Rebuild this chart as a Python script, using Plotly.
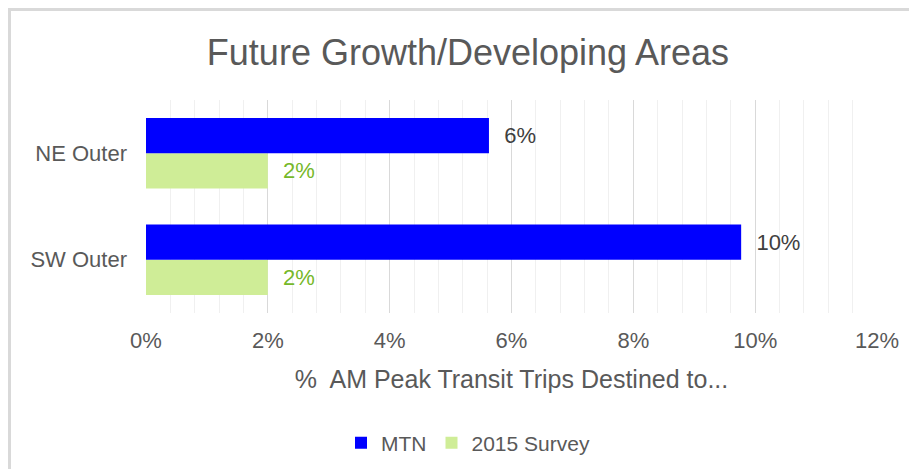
import plotly.graph_objects as go

categories = ["NE Outer", "SW Outer"]
mtn = [0.0563, 0.0977]
survey = [0.02, 0.02]
x_ticks = [0, 0.02, 0.04, 0.06, 0.08, 0.10, 0.12]
x_tick_labels = ["0%", "2%", "4%", "6%", "8%", "10%", "12%"]

FONT = "Liberation Sans, Arial, sans-serif"
GREY = "#595959"

fig = go.Figure()
fig.add_trace(go.Bar(
    name="2015 Survey", y=categories, x=survey, orientation="h",
    marker=dict(color="#cfed97", line=dict(width=0)),
    texttemplate="\u00a0\u00a0%{x:.0%}", textposition="outside",
    textfont=dict(size=22, color="#76b82a", family=FONT), cliponaxis=False,
))
fig.add_trace(go.Bar(
    name="MTN", y=categories, x=mtn, orientation="h",
    marker=dict(color="#0000ff", line=dict(width=0)),
    texttemplate="\u00a0\u00a0%{x:.0%}", textposition="outside",
    textfont=dict(size=22, color="#404040", family=FONT), cliponaxis=False,
))

# page body has an 8px margin; the figure is sized/placed to compensate
W, H = 909, 461
L, R, T, B = 138, 40, 92, 156
pw, ph = W - L - R, H - T - B

def px_x(p):
    return (p - L) / pw

def px_y(p):
    return (H - B - p) / ph

shapes = [
    dict(type="rect", xref="paper", yref="paper",
         x0=px_x(1.5), x1=px_x(W + 20), y0=px_y(H + 20), y1=px_y(1.5),
         line=dict(color="#d9d9d9", width=3), fillcolor="rgba(0,0,0,0)", layer="below"),
]

fig.update_layout(
    width=W, height=H,
    margin=dict(l=L, r=R, t=T, b=B, autoexpand=False),
    paper_bgcolor="white", plot_bgcolor="white",
    barmode="group", bargap=0.34, bargroupgap=0,
    font=dict(family=FONT, color=GREY, size=22),
    title=dict(text="Future Growth/Developing Areas", x=(468 - 8) / W, xanchor="center",
               y=1 - 44 / H, yanchor="middle", font=dict(size=36, color=GREY, family=FONT)),
    xaxis=dict(range=[0, 0.12], tickvals=x_ticks, ticktext=x_tick_labels,
               showgrid=True, gridcolor="#d9d9d9", gridwidth=1,
               minor=dict(dtick=0.004, showgrid=True, gridcolor="#f0f0f0", gridwidth=1, ticks=""),
               zeroline=False, showline=False, ticks="",
               tickfont=dict(size=22, color=GREY), ticklabelstandoff=12,
               title=dict(text="%\u00a0 AM Peak Transit Trips Destined to...",
                          font=dict(size=25, color=GREY), standoff=18)),
    yaxis=dict(categoryorder="array", categoryarray=categories[::-1],
               showgrid=False, zeroline=False, showline=False, ticks="",
               tickfont=dict(size=22, color=GREY), ticklabelstandoff=18),
    legend=dict(orientation="h", x=px_x(468 - 8), xanchor="center", y=px_y(443 - 8), yanchor="middle",
                traceorder="reversed", font=dict(size=21, color=GREY),
                itemwidth=30, bgcolor="rgba(0,0,0,0)"),
    shapes=shapes,
)

fig.write_html("out.html")
